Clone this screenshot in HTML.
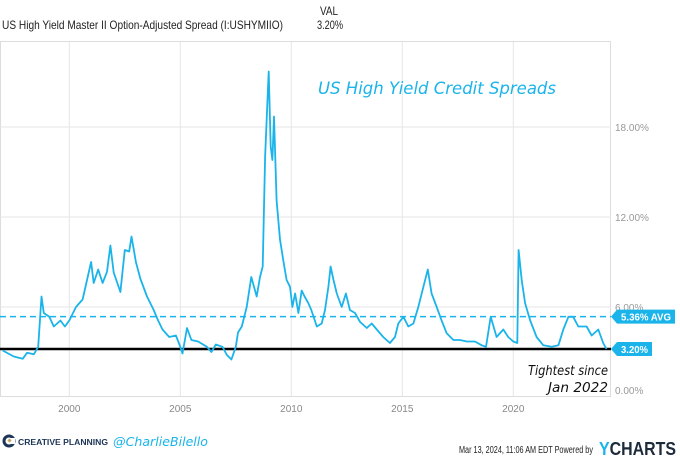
<!DOCTYPE html>
<html><head><meta charset="utf-8"><style>
body{margin:0;background:#fff;width:680px;height:457px;overflow:hidden;font-family:"Liberation Sans",sans-serif}
svg{display:block}
</style></head><body>
<svg width="680" height="457" id="c">
<text x="2" y="29" font-size="12" fill="#222" textLength="281" lengthAdjust="spacingAndGlyphs">US High Yield Master II Option-Adjusted Spread (I:USHYMIIO)</text>
<text x="320" y="15" font-size="12" fill="#222" textLength="18" lengthAdjust="spacingAndGlyphs">VAL</text>
<text x="317" y="29" font-size="12" fill="#222" textLength="26" lengthAdjust="spacingAndGlyphs">3.20%</text>
<rect x="0.5" y="41.5" width="610" height="355" fill="none" stroke="#ddd"/>
<g id="grid"></g>
<g id="series"></g>
<text x="318" y="94" font-size="17" font-style="italic" fill="#1ab4ea" font-family="'DejaVu Sans',sans-serif" textLength="238" lengthAdjust="spacingAndGlyphs">US High Yield Credit Spreads</text>
<text x="528" y="375" font-size="13" font-style="italic" fill="#111" font-family="'DejaVu Sans',sans-serif" textLength="80" lengthAdjust="spacingAndGlyphs">Tightest since</text>
<text x="548" y="392" font-size="13" font-style="italic" fill="#111" font-family="'DejaVu Sans',sans-serif" textLength="60" lengthAdjust="spacingAndGlyphs">Jan 2022</text>
<g>
<circle cx="9" cy="441" r="5" fill="none" stroke="#1d3557" stroke-width="3"/>
<rect x="10" y="438" width="5" height="6" fill="#fff"/>
<rect x="8" y="439" width="3" height="3" fill="#c9a25c" transform="rotate(45 9.5 440.5)"/>
<text x="18" y="445" font-size="8" font-weight="bold" fill="#1d3557" textLength="90" lengthAdjust="spacingAndGlyphs">CREATIVE PLANNING</text>
</g>
<text x="113" y="446" font-size="12" font-style="italic" fill="#1ab4ea" font-family="'DejaVu Sans',sans-serif" textLength="95" lengthAdjust="spacingAndGlyphs">@CharlieBilello</text>
<text x="459" y="453" font-size="10" fill="#222" textLength="134" lengthAdjust="spacingAndGlyphs">Mar 13, 2024, 11:06 AM EDT Powered by</text>
<text x="599" y="455" font-size="18" font-weight="bold" fill="#1d2a3a" textLength="77" lengthAdjust="spacingAndGlyphs"><tspan fill="#1ab4ea">Y</tspan>CHARTS</text>
</svg>
<script>
const years=[1997.0,1997.5,1997.9,1998.1,1998.4,1998.6,1998.75,1998.85,1999.1,1999.3,1999.6,1999.8,2000.0,2000.3,2000.6,2000.98,2001.1,2001.3,2001.5,2001.7,2001.85,2002.0,2002.3,2002.5,2002.7,2002.8,2003.0,2003.2,2003.5,2003.8,2004.0,2004.2,2004.5,2004.8,2005.0,2005.1,2005.3,2005.5,2005.8,2006.2,2006.4,2006.6,2006.9,2007.1,2007.3,2007.5,2007.6,2007.77,2007.99,2008.2,2008.44,2008.59,2008.71,2008.82,2008.98,2009.07,2009.15,2009.22,2009.34,2009.49,2009.64,2009.79,2009.94,2010.05,2010.17,2010.32,2010.47,2010.6,2010.77,2010.9,2011.15,2011.37,2011.52,2011.67,2011.77,2011.9,2012.05,2012.27,2012.46,2012.64,2012.87,2013.1,2013.4,2013.62,2013.85,2014.14,2014.44,2014.67,2014.82,2015.05,2015.27,2015.5,2015.72,2015.95,2016.15,2016.32,2016.55,2016.77,2017.0,2017.3,2017.6,2017.9,2018.27,2018.58,2018.77,2018.98,2019.25,2019.55,2019.77,2020.0,2020.18,2020.24,2020.38,2020.53,2020.76,2021.05,2021.35,2021.73,2022.03,2022.25,2022.48,2022.7,2022.93,2023.3,2023.53,2023.83,2024.05,2024.2];
const spreads=[3.1,2.7,2.55,2.95,2.85,3.35,6.7,5.6,5.35,4.7,5.1,4.7,5.1,6.0,6.5,9.0,7.6,8.5,7.6,8.35,10.1,8.3,7.0,9.8,9.7,10.7,9.0,7.9,6.7,5.8,5.1,4.5,4.0,4.1,3.35,2.9,4.6,3.8,3.7,3.35,3.0,3.5,3.35,2.8,2.5,3.35,4.3,4.7,6.0,8.0,6.7,8.0,8.7,16.0,21.7,16.7,15.8,18.7,13.1,10.5,9.1,7.8,7.35,6.0,6.9,5.6,7.1,6.7,6.25,5.8,4.7,4.9,5.8,7.35,8.7,7.8,6.9,6.0,6.9,5.8,5.6,5.0,4.6,4.9,4.5,4.0,3.6,4.0,4.9,5.35,4.7,4.9,6.0,7.35,8.5,6.9,6.0,5.1,4.25,3.8,3.8,3.7,3.7,3.45,3.35,5.35,4.0,4.5,4.0,3.7,3.6,9.8,7.8,6.25,5.1,4.0,3.45,3.35,3.45,4.5,5.35,5.35,4.7,4.7,4.1,4.5,3.6,3.2];
const yTicks=[0,6,12,18];
const yTickLabels=["0.00%","6.00%","12.00%","18.00%"];
const xTicks=[2000,2005,2010,2015,2020];
const avgValue=5.36, lastValue=3.20;
const NS="http://www.w3.org/2000/svg";
const X=y=>69.3+(y-2000)*22.2;
const Y=v=>397-v*15;
function mk(tag,attrs,parent){const e=document.createElementNS(NS,tag);for(const k in attrs)e.setAttribute(k,attrs[k]);parent.appendChild(e);return e;}
const grid=document.getElementById('grid'),ser=document.getElementById('series'),svg=document.getElementById('c');
yTicks.forEach((t,i)=>{
  if(t>0){const l=mk('line',{x1:0,x2:611,y1:Y(t),y2:Y(t),stroke:'#e6e6e6'},grid);
  
  }
  const tx=mk('text',{x:615,y:Y(t)+(t===0?-3:4),'font-size':10,fill:'#999'},grid);tx.textContent=yTickLabels[i];
  
  
});
xTicks.forEach(t=>{
  const l=mk('line',{x1:X(t),x2:X(t),y1:42,y2:396,stroke:'#e6e6e6'},grid);
  
  
  const tx=mk('text',{x:X(t),y:412,'font-size':10,fill:'#888','text-anchor':'middle'},grid);tx.textContent=t;
  
  
});
const avg=mk('line',{x1:0,x2:611,y1:Y(avgValue),y2:Y(avgValue),stroke:'#1ab4ea','stroke-width':1.5,'stroke-dasharray':'6,4'},ser);


const cur=mk('line',{x1:0,x2:611,y1:Y(lastValue),y2:Y(lastValue),stroke:'#000','stroke-width':2.5},ser);


const p=mk('polyline',{points:years.map((y,i)=>X(y).toFixed(1)+','+Y(spreads[i]).toFixed(1)).join(' '),fill:'none',stroke:'#1ab4ea','stroke-width':1.8,'stroke-linejoin':'round'},ser);


function tag(v,label,w,name){
  const y=Y(v);
  const g=mk('g',{},svg);
  
  
  mk('polygon',{points:`611,${y} 617,${y-7} ${617+w},${y-7} ${617+w},${y+7} 617,${y+7}`,fill:'#1ab4ea'},g);
  const t=mk('text',{x:621,y:y+4,'font-size':10,'font-weight':'bold',fill:'#fff',textLength:w-8,lengthAdjust:'spacingAndGlyphs'},g);t.textContent=label;
}
tag(avgValue,avgValue.toFixed(2)+'% AVG',58,'avg-value-tag');
tag(lastValue,lastValue.toFixed(2)+'%',35,'last-value-tag');
</script>
</body></html>
